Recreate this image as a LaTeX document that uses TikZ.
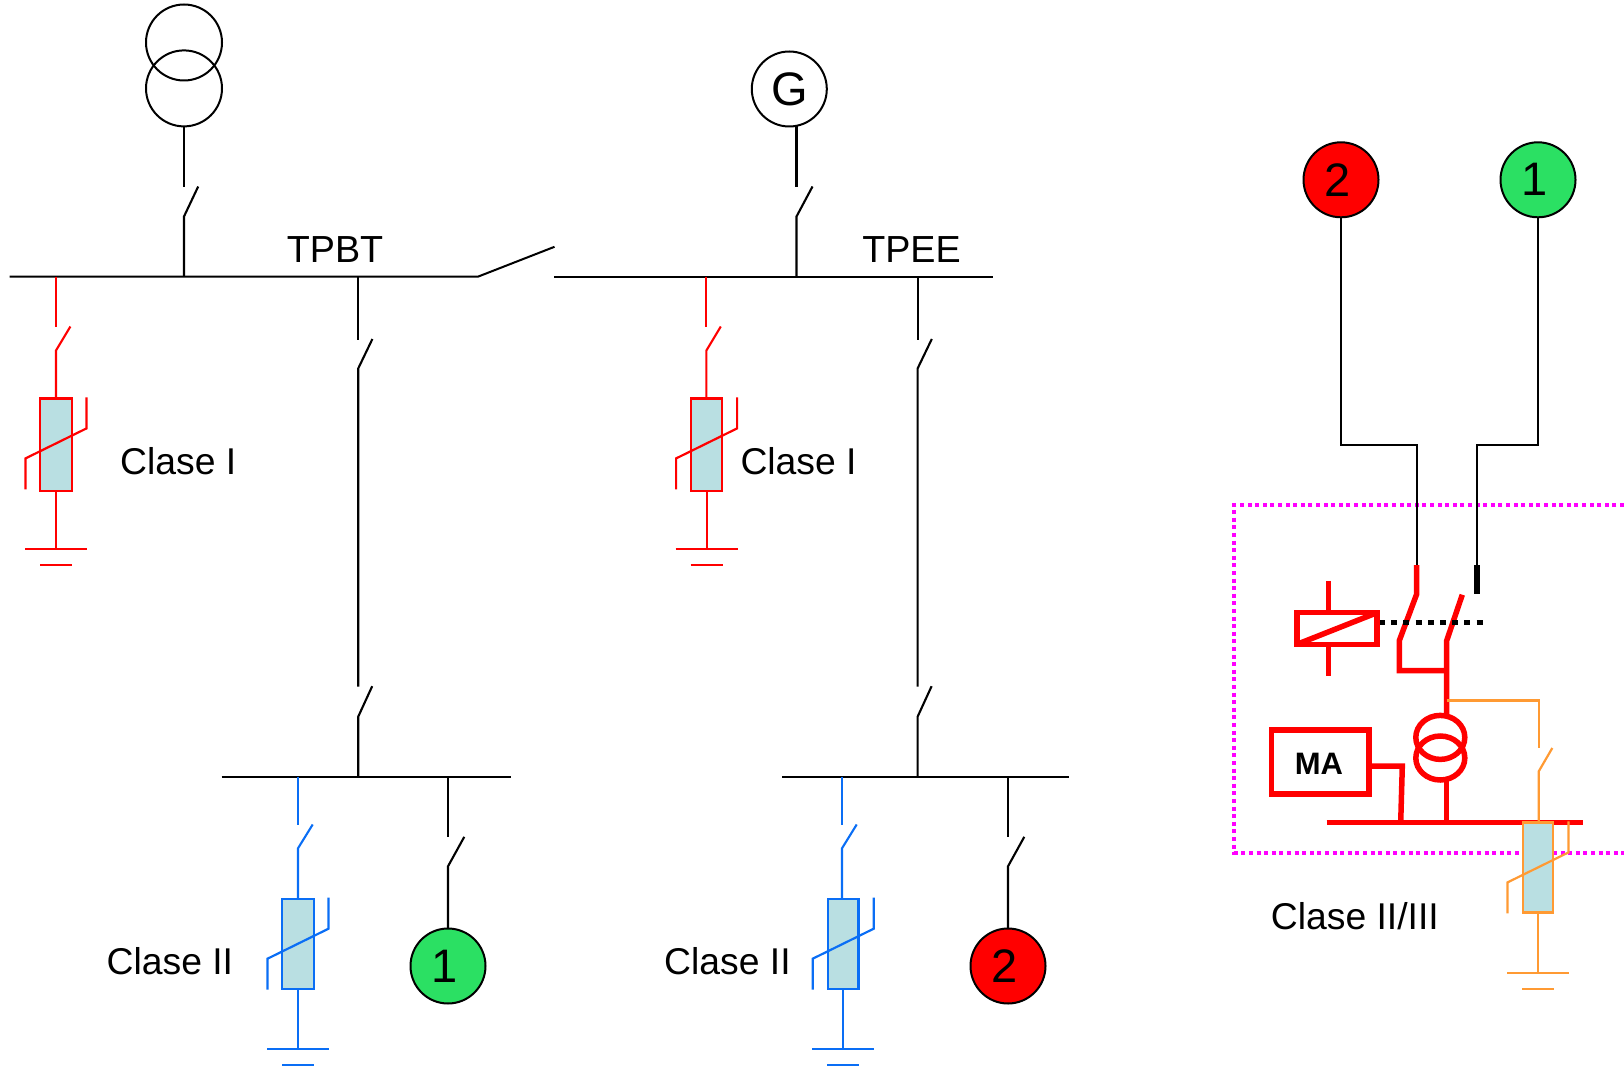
\documentclass[tikz,border=0pt]{standalone}
\usepackage{fontspec}
\usetikzlibrary{shapes.geometric}
\setmainfont{Liberation Sans}
\definecolor{varfill}{HTML}{B9DFE2}
\definecolor{ngreen}{HTML}{2BE063}
\definecolor{nblue}{HTML}{0A6EF5}
\definecolor{norange}{HTML}{FF9A33}
\definecolor{nmagenta}{HTML}{FF00FF}
\tikzset{
  thinline/.style={line width=2pt,draw=black},
  thickred/.style={line width=5.5pt,draw=red,line join=miter},
  source/.style={circle,draw=black,line width=2pt,minimum size=75pt,inner sep=0pt,font=\fontsize{47}{49}\selectfont},
  lab/.style={inner sep=0pt,anchor=base west,font=\fontsize{37.3}{40}\selectfont},
  buslab/.style={inner sep=0pt,anchor=base,font=\fontsize{37.7}{40}\selectfont},
}
% arrester: colour, x centre, half width, y top, y bottom, ground offset
\newcommand{\arrester}[6]{%
  \draw[line width=2.4pt,draw=#1,fill=varfill] ({#2-#3},#4) rectangle ({#2+#3},#5);
  \draw[line width=2.2pt,draw=#1] ({#2+30.5},{#4-1}) -- ({#2+30.5},{#4+30}) -- ({#2-30.5},{#4+60}) -- ({#2-30.5},{#4+91});
  \draw[line width=2.2pt,draw=#1] (#2,#5) -- (#2,{#5+#6});
  \draw[line width=2.2pt,draw=#1] ({#2-31},{#5+#6}) -- ({#2+31},{#5+#6});
  \draw[line width=2.2pt,draw=#1] ({#2-16},{#5+#6+16}) -- ({#2+16},{#5+#6+16});
}
% branch with open switch: colour, x, y start, y gap top, y gap bottom, blade dx, y end
\newcommand{\swbranch}[7]{%
  \draw[line width=2.1pt,draw=#1] (#2,#3) -- (#2,#4);
  \draw[line width=2.1pt,draw=#1] ({#2+#6},{#4-0.5}) -- (#2,#5) -- (#2,#7);
}
\begin{document}
\begin{tikzpicture}[x=1pt,y=-1pt]
\useasboundingbox (0,0) rectangle (1624,1067);
% busbars
\coordinate (busAl) at (9.6,276.5);
\coordinate (busAr) at (478.4,276.5);
\coordinate (busAtip) at (554.5,246.8);
\coordinate (busBl) at (554,276.5);
\coordinate (busBr) at (993,276.5);
\coordinate (busCl) at (221.7,776.7);
\coordinate (busCr) at (510.7,776.7);
\coordinate (busDl) at (782,776.7);
\coordinate (busDr) at (1069,776.7);
\draw[thinline] (busAl) -- (busAr) -- (busAtip);
\draw[thinline] (busBl) -- (busBr);
\draw[thinline] (busCl) -- (busCr);
\draw[thinline] (busDl) -- (busDr);
\node[buslab] (tpbt) at (335,262.5) {TPBT};
\node[buslab] (tpee) at (911.5,262.5) {TPEE};
% transformer source
\node[circle,draw=black,line width=2pt,minimum size=76pt,inner sep=0pt] (trA) at (184,42.5) {};
\node[circle,draw=black,line width=2pt,minimum size=76pt,inner sep=0pt] (trB) at (184,88.4) {};
\swbranch{black}{184}{126.4}{187}{216.5}{14.2}{276.5}
% generator
\node[source] (gen) at (789.3,89) {G};
\swbranch{black}{796.5}{125.7}{187}{216.5}{16}{276.5}
% feeder lines between busbars
\swbranch{black}{358.2}{276.5}{339.5}{368.5}{14.2}{686.7}
\swbranch{black}{358.2}{686.7}{686.7}{716.7}{14}{776.7}
\swbranch{black}{917.6}{276.5}{339.5}{368.5}{14.2}{686.7}
\swbranch{black}{917.6}{686.7}{686.7}{716.7}{14}{776.7}
% class I arresters
\swbranch{red}{56}{276.5}{327}{350.5}{14.4}{398.4}
\arrester{red}{56}{16}{398.4}{491}{57.8}
\swbranch{red}{706.4}{276.5}{327}{350.5}{14.4}{398.4}
\arrester{red}{706.6}{15.5}{398.4}{491}{57.8}
\node[lab] (claseA) at (120,474.7) {Clase I};
\node[lab] (claseB) at (740.3,474.7) {Clase I};
% class II arresters
\swbranch{nblue}{298}{776.7}{825}{848.3}{14.7}{898.7}
\arrester{nblue}{298}{16}{898.7}{988.7}{60.6}
\swbranch{nblue}{842}{776.7}{825}{848.3}{14.7}{898.7}
\arrester{nblue}{843.2}{15.2}{898.7}{988.7}{60.6}
\node[lab] (claseC) at (106.5,974.7) {Clase II};
\node[lab] (claseD) at (664,974.7) {Clase II};
% numbered loads
\node[source,fill=ngreen] (loadA) at (448,966) {1\kern7pt};
\node[source,fill=red] (loadB) at (1008,966) {2\kern7pt};
\swbranch{black}{448}{776.7}{837.3}{866.3}{16.3}{928.3}
\swbranch{black}{1008}{776.7}{837.3}{866.3}{16.3}{928.3}
% right panel: dotted enclosure
\draw[line width=4pt,draw=nmagenta,dash pattern=on 4pt off 3.6pt]
  (1624,504.6) -- (1234.3,504.6) -- (1234.3,852.6) -- (1624,852.6);
% supplies
\node[source,fill=red] (supB) at (1341,179.8) {2\kern7pt};
\node[source,fill=ngreen] (supA) at (1538,179.8) {1\kern7pt};
\coordinate (inB) at (1416.7,565);
\coordinate (inA) at (1476.7,565);
\draw[thinline] (supB.south) -- (1341,445) -- (1416.7,445) -- (inB);
\draw[thinline] (supA.south) -- (1538,445) -- (1476.7,445) -- (inA);
% changeover switch
\draw[thickred] (inB) -- (1416.7,594) -- (1399.3,640.6) -- (1399.3,670.5) -- (1446.7,670.5);
\draw[line width=6pt,draw=black] (inA) -- (1476.7,594);
\draw[thickred] (1462.3,594.7) -- (1446.7,640.6) -- (1446.7,714.6);
\draw[line width=5.6pt,draw=black,dash pattern=on 6pt off 6.2pt] (1379,622.3) -- (1482.7,622.3);
% relay
\node[draw=red,line width=5.5pt,outer sep=0pt,minimum width=80.4pt,minimum height=31.8pt,inner sep=0pt] (relay) at (1337,628.5) {};
\draw[thickred,shorten <=1.5pt,shorten >=1.5pt] (relay.south west) -- (relay.north east);
\draw[thickred] (1328.3,580.9) -- (relay.north -| 1328.3,0);
\draw[thickred] (relay.south -| 1328.3,0) -- (1328.3,676);
% transformer
\node[ellipse,draw=red,line width=5.5pt,minimum width=49pt,minimum height=44pt,inner sep=0pt] (ctA) at (1440.3,737.4) {};
\node[ellipse,draw=red,line width=5.5pt,minimum width=49pt,minimum height=44pt,inner sep=0pt] (ctB) at (1440.3,758) {};
% MA box and bar
\node[draw=red,line width=5.5pt,minimum width=97.3pt,minimum height=63.8pt,inner sep=0pt] (ma) at (1320.3,761.9) {};
\node[inner sep=0pt,font=\fontsize{31}{33}\selectfont\bfseries] (matext) at (1319,763.5) {MA};
\coordinate (barL) at (1326.7,822.4);
\coordinate (barR) at (1582.7,822.4);
\coordinate (maOut) at (1369,766);
\draw[thickred] (maOut) -- (1402.3,766) -- (1400.7,822.4);
\draw[thickred] (1446.7,780.7) -- (1446.7,822.4);
\draw[thickred] (barL) -- (barR);
% orange arrester
\draw[line width=2.2pt,draw=norange] (1446.7,700.4) -- (1538.7,700.4) -- (1538.7,748.2);
\draw[line width=2.2pt,draw=norange] (1552.3,748) -- (1538.7,771.4) -- (1538.7,821.8);
\arrester{norange}{1538}{15.2}{822.4}{912.4}{60.2}
\node[lab] (claseE) at (1270.7,929) {Clase II/III};
\end{tikzpicture}
\end{document}
